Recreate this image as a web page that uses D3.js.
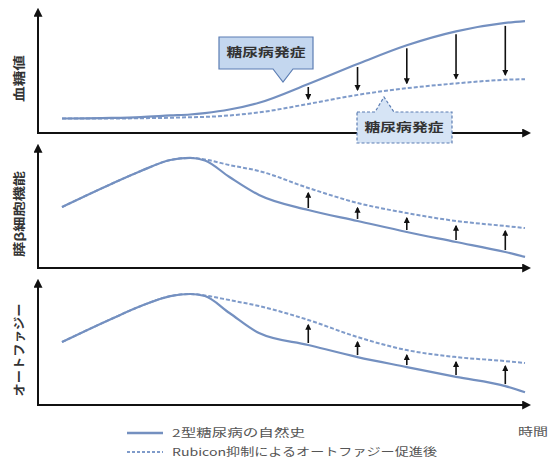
<!DOCTYPE html>
<meta charset="utf-8">
<title>Rubicon</title>
<style>
  body { margin:0; background:#fff; }
  svg { display:block; font-family:"Noto Sans CJK JP", sans-serif; }
</style>
<body>
<svg id="chart" width="552" height="473"></svg>
<script src="https://d3js.org/d3.v7.min.js"></script>
<script>
// time points (x) shared by all three panels
var tVals = [0, 1, 1.6, 2.2, 2.6, 2.9, 3.4, 4, 5, 6, 7, 8, 9, 9.4];
// panel 1: blood glucose
var glucoseNatural = [12, 12.5, 13.2, 14.5, 15.3, 16.5, 19.4, 25, 40.5, 57, 72.5, 84, 91, 92.5];
var glucoseRubicon = [12, 12, 12.2, 12.6, 13, 13.3, 14.5, 17, 24, 31.5, 37, 41, 44, 44.5];
// panel 2: beta cell function
var betaNatural = [50.8, 70, 80.8, 90, 91.7, 89.6, 75.8, 60.8, 48.3, 39.2, 30, 21.7, 13.3, 9.2];
var betaRubicon = [50.8, 70, 80.8, 90, 91.7, 90.4, 85.8, 80.8, 66.7, 54.2, 45.8, 39.2, 35, 33.3];
// panel 3: autophagy
var autoNatural = [51.6, 70.5, 81.1, 89.3, 91, 89.3, 75.4, 59, 49.2, 39.3, 31.1, 23, 15.5, 10.5];
var autoRubicon = [51.6, 70.5, 81.1, 89.3, 91, 89.8, 86, 81.1, 69.7, 55.7, 45, 39.3, 36, 34.4];

var arrowTimes = [5, 6, 7, 8, 9];
var panelLabels = ["血糖値", "膵β細胞機能", "オートファジー"];
var legendLabels = ["2型糖尿病の自然史", "Rubicon抑制によるオートファジー促進後"];
var calloutText = "糖尿病発症";
var timeLabel = "時間";

var lineColor = "#7490c0";
var dashColor = "#7f9bca";

var svg = d3.select("#chart");

var defs = svg.append("defs");
defs.append("marker").attr("id", "axhead")
    .attr("viewBox", "0 0 10 10").attr("refX", 2).attr("refY", 5)
    .attr("markerWidth", 4.5).attr("markerHeight", 4.5).attr("orient", "auto")
  .append("path").attr("d", "M0,0 L10,5 L0,10 Z").attr("fill", "#111");
defs.append("marker").attr("id", "arrhead")
    .attr("viewBox", "0 0 10 10").attr("refX", 8).attr("refY", 5)
    .attr("markerWidth", 3.8).attr("markerHeight", 3.8).attr("orient", "auto")
  .append("path").attr("d", "M0,0 L10,5 L0,10 Z").attr("fill", "#111");

var x = d3.scaleLinear().domain([0, 9.4]).range([62, 525]);

var panels = [
  { label: panelLabels[0], natural: glucoseNatural, rubicon: glucoseRubicon, top: 12, bottom: 133, dir: "down", labelLen: 47 },
  { label: panelLabels[1], natural: betaNatural, rubicon: betaRubicon, top: 148, bottom: 268, dir: "up", labelLen: 86 },
  { label: panelLabels[2], natural: autoNatural, rubicon: autoRubicon, top: 283, bottom: 405, dir: "up", labelLen: 93 }
];

panels.forEach(function(p, pi) {
  var y = d3.scaleLinear().domain([0, 100]).range([p.bottom, p.top]);
  var g = svg.append("g");

  // axes
  g.append("line").attr("x1", 38).attr("x2", 38).attr("y1", p.bottom + 1).attr("y2", p.top + 3)
    .attr("stroke", "#111").attr("stroke-width", 2).attr("marker-end", "url(#axhead)");
  g.append("line").attr("x1", 37).attr("x2", 524).attr("y1", p.bottom).attr("y2", p.bottom)
    .attr("stroke", "#111").attr("stroke-width", 2).attr("marker-end", "url(#axhead)");

  // y label
  g.append("text")
    .attr("transform", "translate(20," + ((p.top + p.bottom) / 2 + 6) + ") rotate(-90)")
    .attr("text-anchor", "middle").attr("dy", "0.35em")
    .attr("font-size", 12).attr("font-weight", "bold").attr("fill", "#333")
    .attr("textLength", p.labelLen).attr("lengthAdjust", "spacingAndGlyphs")
    .text(p.label);

  var line = d3.line()
    .x(function(d, i) { return x(tVals[i]); })
    .y(function(d) { return y(d); })
    .curve(d3.curveMonotoneX);

  g.append("path").datum(p.rubicon).attr("d", line)
    .attr("fill", "none").attr("stroke", dashColor).attr("stroke-width", 2)
    .attr("stroke-dasharray", "4,2");
  g.append("path").datum(p.natural).attr("d", line)
    .attr("fill", "none").attr("stroke", lineColor).attr("stroke-width", 2.2);

  // arrows
  arrowTimes.forEach(function(t) {
    var i = tVals.indexOf(t);
    var ys = y(p.natural[i]), yr = y(p.rubicon[i]);
    var y1, y2;
    if (p.dir === "down") { y1 = ys + 3; y2 = yr - 5; }
    else { y1 = ys - 2; y2 = yr + 5; }
    g.append("line").attr("x1", x(t)).attr("x2", x(t)).attr("y1", y1).attr("y2", y2)
      .attr("stroke", "#111").attr("stroke-width", 1.6).attr("marker-end", "url(#arrhead)");
  });

  if (pi === 0) {
    // callout for natural history onset
    g.append("path")
      .attr("d", "M219,37 H313 V69 H293 L283,82 L273,69 H219 Z")
      .attr("fill", "#c4d7ef").attr("stroke", "#5b7db3").attr("stroke-width", 1.2);
    g.append("text").attr("x", 266).attr("y", 53).attr("dy", "0.35em")
      .attr("text-anchor", "middle").attr("font-size", 12.5).attr("font-weight", "bold").attr("fill", "#333")
      .attr("textLength", 79).attr("lengthAdjust", "spacingAndGlyphs")
      .text(calloutText);
    // callout for rubicon onset
    g.append("path")
      .attr("d", "M357,112 H375 L384,97 L394,112 H452 V143 H357 Z")
      .attr("fill", "#d6e4f5").attr("stroke", "#5b7db3").attr("stroke-width", 1.2)
      .attr("stroke-dasharray", "3,2");
    g.append("text").attr("x", 404).attr("y", 127.5).attr("dy", "0.35em")
      .attr("text-anchor", "middle").attr("font-size", 12.5).attr("font-weight", "bold").attr("fill", "#333")
      .attr("textLength", 79).attr("lengthAdjust", "spacingAndGlyphs")
      .text(calloutText);
  }
});

// legend
var legY = [433, 452];
legendLabels.forEach(function(lab, i) {
  svg.append("line").attr("x1", 127).attr("x2", 163).attr("y1", legY[i]).attr("y2", legY[i])
    .attr("stroke", i === 0 ? lineColor : dashColor).attr("stroke-width", i === 0 ? 2.4 : 2)
    .attr("stroke-dasharray", i === 0 ? null : "3,2");
  svg.append("text").attr("x", 172).attr("y", legY[i]).attr("dy", "0.35em")
    .attr("font-size", 11).attr("fill", "#555")
    .attr("textLength", i === 0 ? 133 : 265).attr("lengthAdjust", "spacingAndGlyphs")
    .text(lab);
});
svg.append("text").attr("x", 518).attr("y", 432).attr("dy", "0.35em")
  .attr("font-size", 11).attr("fill", "#555")
  .attr("textLength", 30).attr("lengthAdjust", "spacingAndGlyphs")
  .text(timeLabel);
</script>
</body>
